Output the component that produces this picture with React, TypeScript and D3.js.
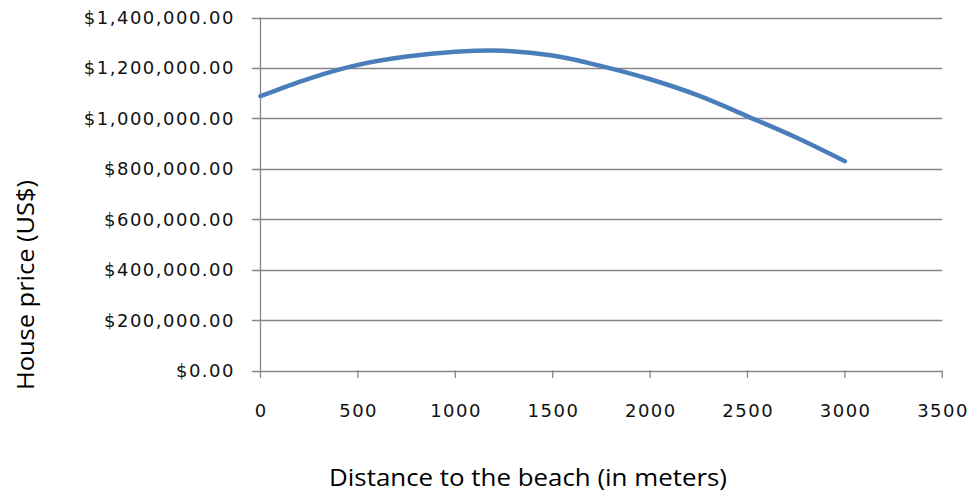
import React from "react";
import * as d3 from "d3";

const distances = [0, 250, 500, 750, 1000, 1250, 1500, 1750, 2000, 2250, 2500, 2750, 3000];
const prices = [1088000, 1158000, 1212000, 1245000, 1264000, 1268000, 1249000, 1207000, 1155000, 1090000, 1008000, 924000, 830000];
const xTicks = [0, 500, 1000, 1500, 2000, 2500, 3000, 3500];
const yTicks = [0, 200000, 400000, 600000, 800000, 1000000, 1200000, 1400000];
const xTitle = "Distance to the beach (in meters)";
const yTitle = "House price (US$)";

const W = 972;
const H = 501;

export default function App() {
  const x = d3.scaleLinear().domain([0, 3500]).range([260.5, 942.3]);
  const y = d3.scaleLinear().domain([0, 1400000]).range([370.5, 17.5]);
  const fmt = (v: number) => "$" + d3.format(",.2f")(v);
  const pts = distances.map((d, i) => [d, prices[i]] as [number, number]);
  const line = d3
    .line<[number, number]>()
    .x((d) => x(d[0]))
    .y((d) => y(d[1]))
    .curve(d3.curveCatmullRom.alpha(0.5));
  const grid = "#868686";
  const tickFont = "'DejaVu Sans', Verdana, sans-serif";
  const titleFont = "'Open Sans', Calibri, sans-serif";
  return (
    <svg
      width={W}
      height={H}
      style={{ position: "absolute", left: 0, top: 0, background: "#fff" }}
    >
      {yTicks.map((t) => (
        <g key={"y" + t}>
          <line x1={252} x2={942.3} y1={Math.round(y(t)) + 0.5} y2={Math.round(y(t)) + 0.5} stroke={grid} strokeWidth={1.3} />
          <text
            x={235}
            y={y(t)}
            dy="0.36em"
            textAnchor="end"
            fontFamily={tickFont}
            fontSize={18}
            letterSpacing={1.5}
            fill="#111"
          >
            {fmt(t)}
          </text>
        </g>
      ))}
      <line x1={260.5} x2={260.5} y1={17.5} y2={370.5} stroke={grid} strokeWidth={1.3} />
      {xTicks.map((t) => (
        <g key={"x" + t}>
          <line x1={x(t)} x2={x(t)} y1={370.5} y2={378} stroke={grid} strokeWidth={1.3} />
          <text
            x={x(t) + 0.75}
            y={411}
            dy="0.36em"
            textAnchor="middle"
            fontFamily={tickFont}
            fontSize={18}
            letterSpacing={1.5}
            fill="#111"
          >
            {t}
          </text>
        </g>
      ))}
      <path
        d={line(pts) || ""}
        fill="none"
        stroke="#4a7ebb"
        strokeWidth={4.5}
        strokeLinecap="round"
      />
      <text
        x={528}
        y={486}
        textAnchor="middle"
        fontFamily={titleFont}
        fontSize={23}
        textLength={398}
        lengthAdjust="spacingAndGlyphs"
        fill="#000"
      >
        {xTitle}
      </text>
      <text
        transform={`translate(34,285) rotate(-90)`}
        textAnchor="middle"
        fontFamily={titleFont}
        fontSize={23}
        textLength={210}
        lengthAdjust="spacingAndGlyphs"
        fill="#000"
      >
        {yTitle}
      </text>
    </svg>
  );
}
